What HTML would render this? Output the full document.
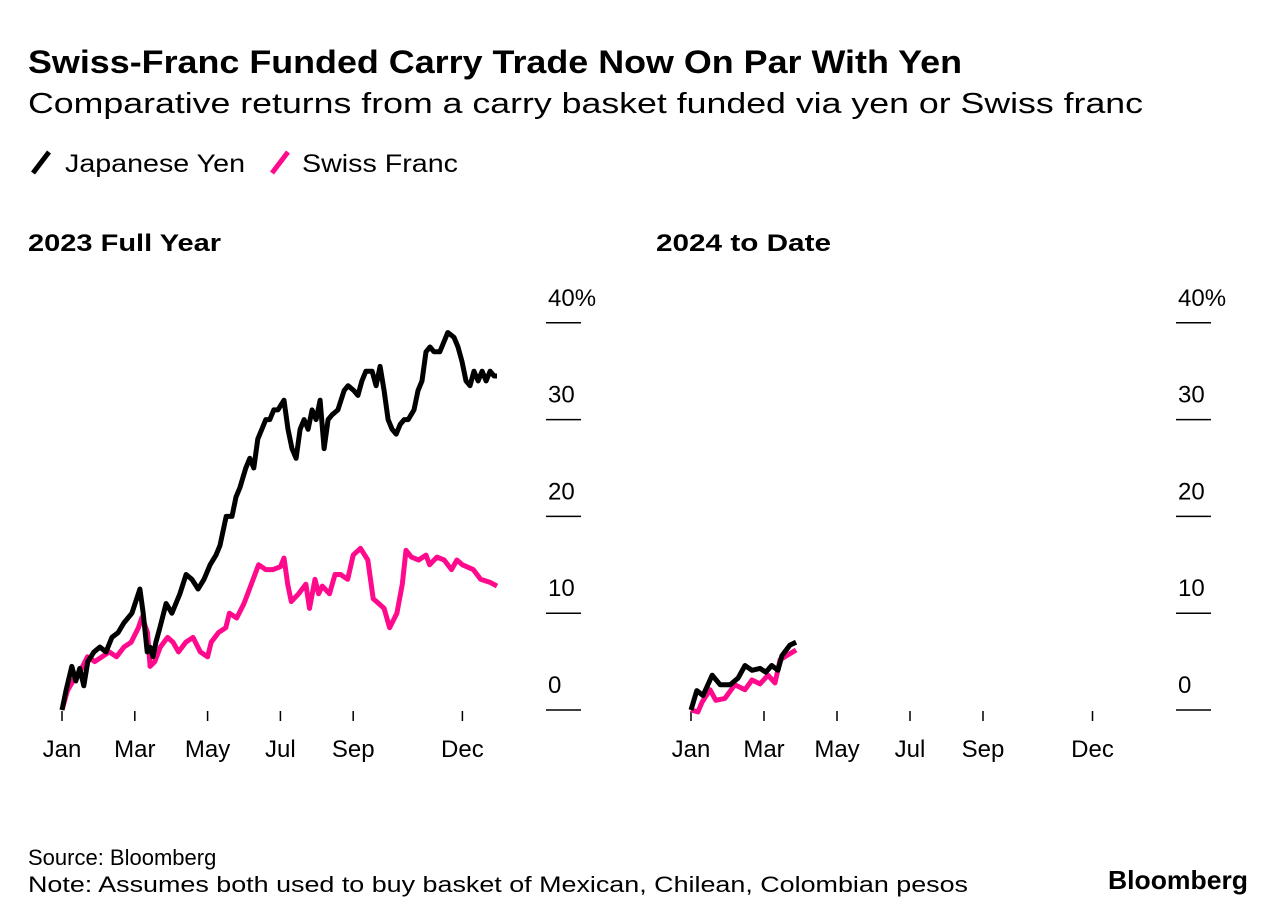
<!DOCTYPE html>
<html><head><meta charset="utf-8"><style>
html,body{margin:0;padding:0;background:#fff;}
svg{display:block;font-family:"Liberation Sans",Arial,sans-serif;}
</style></head><body>
<svg id="chart" width="1287" height="924" viewBox="0 0 1287 924">
<text x="28" y="73" font-size="32" font-weight="bold" textLength="934" lengthAdjust="spacingAndGlyphs">Swiss-Franc Funded Carry Trade Now On Par With Yen</text>
<text x="28" y="113" font-size="29" textLength="1115" lengthAdjust="spacingAndGlyphs">Comparative returns from a carry basket funded via yen or Swiss franc</text>
<g>
<g><line x1="33" y1="173" x2="49" y2="152" stroke="#000" stroke-width="5" stroke-linecap="butt"/><text x="65" y="172" font-size="25" textLength="180" lengthAdjust="spacingAndGlyphs">Japanese Yen</text></g>
<g><line x1="272" y1="173" x2="288" y2="152" stroke="#ff0a8c" stroke-width="5"/><text x="302" y="172" font-size="25" textLength="156" lengthAdjust="spacingAndGlyphs">Swiss Franc</text></g>
</g>
<text x="28" y="251" font-size="24" font-weight="bold" textLength="193" lengthAdjust="spacingAndGlyphs">2023 Full Year</text>
<text x="656" y="251" font-size="24" font-weight="bold" textLength="175" lengthAdjust="spacingAndGlyphs">2024 to Date</text>
<g id="p1"></g>
<g id="p2"></g>
<text x="28" y="865" font-size="22">Source: Bloomberg</text>
<text x="28" y="892" font-size="22" textLength="940" lengthAdjust="spacingAndGlyphs">Note: Assumes both used to buy basket of Mexican, Chilean, Colombian pesos</text>
<text x="1248" y="889" font-size="26" font-weight="bold" text-anchor="end" textLength="140" lengthAdjust="spacingAndGlyphs">Bloomberg</text>
</svg>
<script>
const yTicks=[0,10,20,30,40];
const monthLabels=["Jan","Mar","May","Jul","Sep","Dec"];
const monthIdx=[0,2,4,6,8,11];
const yenM23=[0,.11,.27,.38,.49,.6,.71,.88,1.04,1.21,1.37,1.54,1.7,1.92,2.14,2.23,2.34,2.42,2.5,2.58,2.69,2.86,3.02,3.24,3.41,3.57,3.74,3.9,4.07,4.23,4.34,4.51,4.67,4.78,4.89,5.05,5.16,5.27,5.38,5.49,5.6,5.71,5.82,5.93,6.1,6.21,6.32,6.43,6.54,6.65,6.76,6.87,6.98,7.09,7.2,7.31,7.42,7.58,7.75,7.86,8.02,8.13,8.24,8.35,8.52,8.63,8.74,8.85,8.96,9.07,9.18,9.29,9.4,9.51,9.67,9.78,9.89,10,10.11,10.22,10.38,10.49,10.6,10.77,10.88,10.99,11.1,11.21,11.32,11.43,11.54,11.65,11.76,11.87,11.95];
const yen23=[0,2,4.5,3,4.3,2.5,5,6,6.5,6,7.5,8,9,10,12.5,10,6,6.5,5.5,7,8.5,11,10,12,14,13.5,12.5,13.5,15,16,17,20,20,22,23,25,26,25,28,29,30,30,31,31,32,29,27,26,29,30,29,31,30,32,27,30,30.5,31,33,33.5,33,32.5,34,35,35,33.5,35.5,33,30,29,28.5,29.5,30,30,31,33,34,37,37.5,37,37,38,39,38.5,37.5,36,34,33.5,35,34,35,34,35,34.5,34.5];
const chfM23=[0,.15,.3,.5,.7,.9,1.1,1.3,1.5,1.7,1.9,2.1,2.2,2.35,2.42,2.55,2.7,2.9,3.05,3.2,3.4,3.6,3.8,4.0,4.1,4.3,4.5,4.6,4.8,5.0,5.2,5.4,5.6,5.8,6.0,6.1,6.2,6.3,6.5,6.7,6.8,6.95,7.05,7.15,7.35,7.5,7.65,7.85,8.0,8.2,8.4,8.55,8.7,8.85,9.0,9.2,9.35,9.45,9.6,9.8,10.0,10.1,10.3,10.5,10.7,10.85,11.0,11.3,11.5,11.75,11.95];
const chf23=[0,2,3,4,5.5,5,5.5,6,5.5,6.5,7,8.5,9.6,8,4.5,5,6.5,7.5,7,6,7,7.5,6,5.5,7,8,8.5,10,9.5,11,13,15,14.5,14.5,14.8,15.7,13,11.2,12,13,10.5,13.5,12,12.8,12,14,14,13.5,16,16.7,15.5,11.5,11,10.5,8.5,10,13,16.5,15.8,15.5,16,15,15.8,15.5,14.5,15.5,15,14.5,13.5,13.2,12.8];
const yenM24=[0,.16,.33,.58,.8,1.07,1.29,1.48,1.67,1.89,2.05,2.21,2.38,2.49,2.71,2.88];
const yen24=[0,2,1.5,3.6,2.6,2.6,3.3,4.6,4.1,4.3,3.9,4.6,4.1,5.6,6.7,7];
const chfM24=[0,.19,.3,.52,.68,.93,1.2,1.48,1.67,1.89,2.11,2.3,2.44,2.66,2.88];
const chf24=[0,-.2,.8,2.1,1,1.2,2.6,2.1,3.1,2.7,3.6,2.8,5.2,5.7,6.2];

const NS="http://www.w3.org/2000/svg";
function mk(tag,attrs,parent){const e=document.createElementNS(NS,tag);for(const k in attrs)e.setAttribute(k,attrs[k]);parent.appendChild(e);return e;}
function yScale(v){return 710-v*9.68;}
function panel(g,x0,pxPerMonth,gx,series){
  const xs=m=>x0+m*pxPerMonth;
  yTicks.forEach((t,i)=>{
    const y=yScale(t);
    const l=mk('line',{x1:gx,x2:gx+35,y1:y,y2:y,stroke:'#000','stroke-width':1.5},g);
    
    
    const tx=mk('text',{x:gx+2,y:y-17,'font-size':24},g);
    tx.textContent=t+(i===yTicks.length-1?'%':'');
    
    
  });
  monthIdx.forEach((m,i)=>{
    const x=xs(m);
    const tk=mk('line',{x1:x,x2:x,y1:711,y2:721,stroke:'#000','stroke-width':1.5},g);
    
    
    const tx=mk('text',{x:x,y:757,'font-size':24,'text-anchor':'middle'},g);
    tx.textContent=monthLabels[i];
    
    
  });
  series.forEach(s=>{
    const d=s.m.map((m,i)=>(i?'L':'M')+xs(m).toFixed(1)+','+yScale(s.v[i]).toFixed(1)).join('');
    const p=mk('path',{d:d,fill:'none',stroke:s.c,'stroke-width':5,'stroke-linejoin':'round'},g);
    
    
  });
}
panel(document.getElementById('p1'),62,36.4,546,[{m:chfM23,v:chf23,c:'#ff0a8c',n:'franc-line-2023'},{m:yenM23,v:yen23,c:'#000',n:'yen-line-2023'}]);
panel(document.getElementById('p2'),691,36.5,1176,[{m:chfM24,v:chf24,c:'#ff0a8c',n:'franc-line-2024'},{m:yenM24,v:yen24,c:'#000',n:'yen-line-2024'}]);
</script>
</body></html>
